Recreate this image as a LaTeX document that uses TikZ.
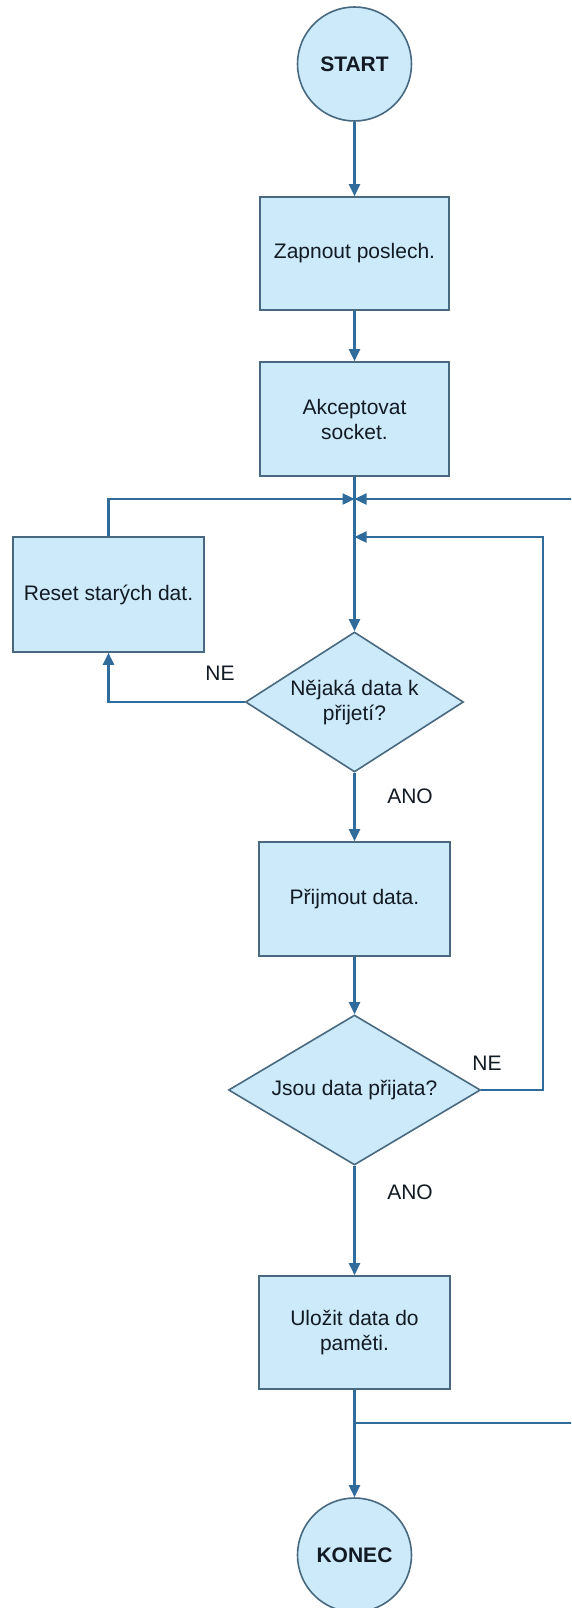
\documentclass[tikz,border=0pt]{standalone}
\usepackage{fontspec}
\setmainfont{Liberation Sans}
\usetikzlibrary{shapes.geometric,arrows.meta}
\definecolor{boxfill}{RGB}{204,234,250}
\definecolor{boxline}{RGB}{72,105,128}
\definecolor{connline}{RGB}{48,108,155}
\definecolor{txt}{RGB}{18,26,36}
\tikzset{
  base/.style={fill=boxfill,draw=boxline,line width=1.6pt,text=txt,font=\fontsize{21}{25}\selectfont,align=center,inner sep=0pt},
  procbox/.style={base,rectangle,minimum width=189pt,minimum height=114pt},
  termcirc/.style={base,circle,minimum size=114pt,font=\bfseries\fontsize{21}{25}\selectfont},
  decbox/.style={base,diamond},
  conn/.style={draw=connline,line width=2.4pt,-{Triangle[length=12pt,width=11pt]}},
  lbl/.style={text=txt,font=\fontsize{21}{25}\selectfont,inner sep=0pt}
}
\begin{document}
\begin{tikzpicture}[x=1pt,y=-1pt]
\clip (0,0) rectangle (571,1608);
\fill[white] (0,0) rectangle (571,1608);
% nodes
\node[termcirc] (start) at (354.5,64) {START};
\node[procbox,minimum height=113pt] (b1) at (354.5,253.5) {Zapnout poslech.};
\node[procbox] (b2) at (354.5,419) {Akceptovat\\socket.};
\node[procbox,minimum width=191pt,minimum height=115pt] (reset) at (108.5,594.5) {Reset starých dat.};
\node[decbox,aspect=1.56,minimum width=218pt,minimum height=140pt] (d1) at (354.5,702) {Nějaká data k\\přijetí?};
\node[procbox,minimum width=191pt] (b3) at (354.5,899) {Přijmout data.};
\node[decbox,aspect=1.68,minimum width=252pt,minimum height=150pt] (d2) at (354.5,1090) {Jsou data přijata?};
\node[procbox,minimum width=191pt,minimum height=113pt] (b4) at (354.5,1332.5) {Uložit data do\\paměti.};
\node[termcirc] (konec) at (354.5,1555) {KONEC};
% labels
\node[lbl] (ne1) at (220,673) {NE};
\node[lbl] (ano1) at (410,796) {ANO};
\node[lbl] (ne2) at (487,1063) {NE};
\node[lbl] (ano2) at (410,1192) {ANO};
% coordinates
\coordinate (jtop) at (354.5,499);
\coordinate (jin) at (354.5,537);
\coordinate (itr) at (543,537);
\coordinate (ob) at (354.5,1423);
\coordinate (obr) at (580,1423);
\coordinate (otr) at (580,499);
% connectors
\draw[conn] (start) -- (b1);
\draw[conn] (b1) -- (b2);
\draw[conn] (b2) -- (d1);
\draw[conn] (reset.north) |- (jtop);
\draw[conn] (ob) -- (obr) -- (otr) -- (jtop);
\draw[conn] (d2.east) -| (itr) -- (jin);
\draw[conn] (d1.west) -| (reset.south);
\draw[conn] (d1) -- (b3);
\draw[conn] (b3) -- (d2);
\draw[conn] (d2) -- (b4);
\draw[conn] (b4) -- (konec);
\end{tikzpicture}
\end{document}
